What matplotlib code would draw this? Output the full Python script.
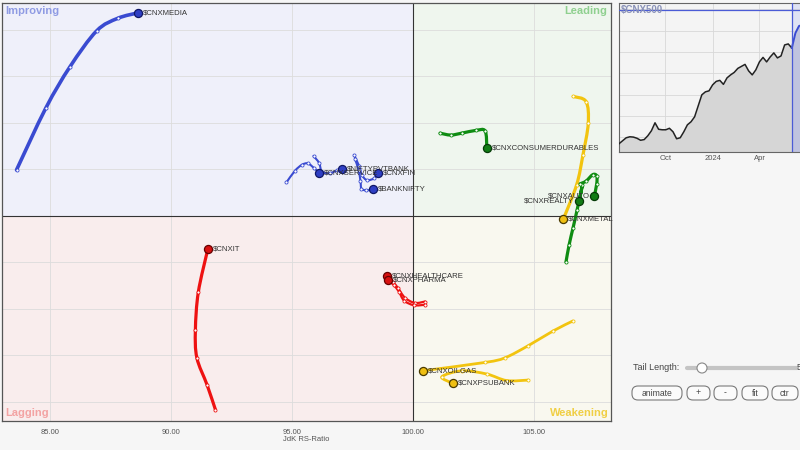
import numpy as np
import pandas as pd
import matplotlib
matplotlib.use('Agg')
import matplotlib.pyplot as plt
from matplotlib.path import Path
from matplotlib.patches import PathPatch, FancyBboxPatch, Rectangle, Circle

plt.rcParams['font.family'] = ['Liberation Sans', 'DejaVu Sans']

# ---------------- RRG data (JdK RS-Ratio, JdK RS-Momentum), oldest -> head
media_x = [83.62, 84.83, 85.83, 86.93, 87.80, 88.65]
media_y = [100.99, 102.32, 103.21, 103.98, 104.25, 104.37]
service_x = [94.77, 95.12, 95.41, 95.66, 95.91, 96.13]
service_y = [100.72, 100.97, 101.10, 101.13, 101.03, 100.93]
pvtbank_x = [95.89, 96.12, 96.24, 96.57, 96.86, 97.08]
pvtbank_y = [101.29, 101.14, 100.95, 100.92, 100.98, 101.01]
fin_x = [97.56, 97.77, 97.89, 98.10, 98.39, 98.57]
fin_y = [101.31, 101.08, 100.88, 100.77, 100.81, 100.92]
banknifty_x = [97.60, 97.75, 97.83, 97.87, 98.06, 98.33]
banknifty_y = [101.23, 100.99, 100.75, 100.59, 100.55, 100.57]
consdur_x = [101.12, 101.56, 102.01, 102.60, 102.98, 103.05]
consdur_y = [101.78, 101.74, 101.78, 101.84, 101.83, 101.47]
metal_x = [106.62, 107.15, 107.24, 107.02, 106.76, 106.21]
metal_y = [102.57, 102.46, 101.99, 101.31, 100.67, 99.93]
realty_x = [106.32, 106.45, 106.61, 106.78, 107.00, 106.87]
realty_y = [99.01, 99.38, 99.74, 100.13, 100.67, 100.33]
auto_x = [106.90, 107.15, 107.43, 107.59, 107.59, 107.49]
auto_y = [100.69, 100.75, 100.89, 100.86, 100.69, 100.43]
it_x = [91.84, 91.49, 91.07, 91.01, 91.13, 91.52]
it_y = [95.83, 96.37, 96.95, 97.55, 98.36, 99.28]
health_x = [100.50, 100.08, 99.67, 99.38, 99.17, 98.93]
health_y = [98.16, 98.13, 98.24, 98.45, 98.58, 98.70]
pharma_x = [100.50, 100.04, 99.63, 99.42, 99.21, 98.98]
pharma_y = [98.09, 98.08, 98.18, 98.37, 98.51, 98.62]
oilgas_x = [106.60, 105.80, 104.76, 103.80, 102.98, 100.40]
oilgas_y = [97.74, 97.53, 97.21, 96.95, 96.85, 96.67]
psubank_x = [104.76, 103.87, 103.05, 102.02, 101.19, 101.64]
psubank_y = [96.47, 96.46, 96.60, 96.67, 96.54, 96.40]

x_ticks = [85, 90, 95, 100, 105]
x_tick_labels = ['85.00', '90.00', '95.00', '100.00', '105.00']

# ---------------- benchmark inset ($CNX500), weekly
bench_start = '2023-07-03'
bench_values = [14687, 14828, 14968, 15015, 15001, 14945, 14851, 14884, 15062, 15297,
                15672, 15367, 15344, 15344, 15414, 15250, 14922, 14968, 15250, 15578,
                15719, 15953, 16469, 16985, 17126, 17173, 17454, 17618, 17665, 17478,
                17782, 17923, 18040, 18228, 18322, 18416, 18111, 17923, 18158, 18533,
                18744, 18533, 18767, 18955, 18720, 18814, 19330, 19377, 19189]
bench_tail_values = [19189, 19893, 20221, 20268, 20221, 20174]
bench_ref_level = 20970
inset_tick_dates = ['2023-10-01', '2024-01-01', '2024-04-01']
inset_tick_labels = ['Oct', '2024', 'Apr']

# ---------------- styles
BLUE = dict(line='#3a4bd1', face='#2f3fc4', edge='#0f1766')
GREEN = dict(line='#0f8c12', face='#117c15', edge='#053a07')
RED = dict(line='#ee1212', face='#d81010', edge='#660000')
YELLOW = dict(line='#f2c40f', face='#efbf12', edge='#4a3a00')

series = [
    ('$CNXMEDIA', media_x, media_y, BLUE, 2.6, 'r'),
    ('$CNXSERVICE', service_x, service_y, BLUE, 1.5, 'r'),
    ('$NIFTYPVTBANK', pvtbank_x, pvtbank_y, BLUE, 1.5, 'r'),
    ('$CNXFIN', fin_x, fin_y, BLUE, 1.5, 'r'),
    ('$BANKNIFTY', banknifty_x, banknifty_y, BLUE, 1.5, 'r'),
    ('$CNXCONSUMERDURABLES', consdur_x, consdur_y, GREEN, 2.3, 'r'),
    ('$CNXMETAL', metal_x, metal_y, YELLOW, 2.3, 'r'),
    ('$CNXREALTY', realty_x, realty_y, GREEN, 2.3, 'l'),
    ('$CNXAUTO', auto_x, auto_y, GREEN, 2.3, 'l'),
    ('$CNXIT', it_x, it_y, RED, 2.3, 'r'),
    ('$CNXHEALTHCARE', health_x, health_y, RED, 1.6, 'r'),
    ('$CNXPHARMA', pharma_x, pharma_y, RED, 1.6, 'r'),
    ('$CNXOILGAS', oilgas_x, oilgas_y, YELLOW, 2.0, 'r'),
    ('$CNXPSUBANK', psubank_x, psubank_y, YELLOW, 2.0, 'r'),
]


def smooth_path(xs, ys):
    pts = np.column_stack([xs, ys]).astype(float)
    n = len(pts)
    verts = [pts[0]]
    codes = [Path.MOVETO]
    for i in range(n - 1):
        p0 = pts[i - 1] if i > 0 else pts[i]
        p1 = pts[i]
        p2 = pts[i + 1]
        p3 = pts[i + 2] if i + 2 < n else pts[i + 1]
        c1 = p1 + (p2 - p0) / 6.0
        c2 = p2 - (p3 - p1) / 6.0
        verts += [c1, c2, p2]
        codes += [Path.CURVE4] * 3
    return Path(verts, codes)


fig = plt.figure(figsize=(8, 4.5), dpi=100, facecolor='#f6f6f6')

W, H = 800.0, 450.0
L, R, T, B = 2, 611, 3, 421
ax = fig.add_axes([L / W, 1 - B / H, (R - L) / W, (B - T) / H])

xlim = (83.02, 108.18)
ylim = (95.59, 104.58)
ax.set_xlim(*xlim)
ax.set_ylim(*ylim)

# quadrant backgrounds
ax.add_patch(Rectangle((xlim[0], 100), 100 - xlim[0], ylim[1] - 100, color='#eff0fa', zorder=0, lw=0))
ax.add_patch(Rectangle((100, 100), xlim[1] - 100, ylim[1] - 100, color='#eff6ee', zorder=0, lw=0))
ax.add_patch(Rectangle((xlim[0], ylim[0]), 100 - xlim[0], 100 - ylim[0], color='#f9eded', zorder=0, lw=0))
ax.add_patch(Rectangle((100, ylim[0]), xlim[1] - 100, 100 - ylim[0], color='#f9f8ef', zorder=0, lw=0))

ax.set_xticks(x_ticks)
ax.set_xticklabels(x_tick_labels)
ax.set_yticks(np.arange(96, 105, 1))
ax.set_yticklabels([])
ax.grid(True, color='#dcdcdc', lw=0.6, zorder=1)
ax.set_axisbelow(True)
ax.tick_params(axis='both', length=0, labelsize=5.5, labelcolor='#555555', pad=6)
ax.set_xlabel('JdK RS-Ratio', fontsize=5.5, color='#555555', labelpad=0)
for s in ax.spines.values():
    s.set_color('#555555')
    s.set_linewidth(0.9)

ax.axvline(100, color='#333333', lw=0.8, zorder=2)
ax.axhline(100, color='#333333', lw=0.8, zorder=2)

# quadrant labels
qfs = 8
ax.text(0.006, 0.993, 'Improving', transform=ax.transAxes, ha='left', va='top',
        fontsize=qfs, fontweight='bold', color='#8f9be3', zorder=3)
ax.text(0.994, 0.993, 'Leading', transform=ax.transAxes, ha='right', va='top',
        fontsize=qfs, fontweight='bold', color='#8fd08f', zorder=3)
ax.text(0.006, 0.008, 'Lagging', transform=ax.transAxes, ha='left', va='bottom',
        fontsize=qfs, fontweight='bold', color='#f3a3a3', zorder=3)
ax.text(0.996, 0.008, 'Weakening', transform=ax.transAxes, ha='right', va='bottom',
        fontsize=qfs, fontweight='bold', color='#f0cf45', zorder=3)

# tails
for name, xs, ys, col, lw, side in series:
    ax.add_patch(PathPatch(smooth_path(xs, ys), fill=False, edgecolor=col['line'],
                           lw=lw, capstyle='round', joinstyle='round', zorder=4))
    ax.scatter(xs[:-1], ys[:-1], s=5, facecolor='white', edgecolor=col['line'],
               linewidths=0.6, zorder=5)
    ax.scatter(xs[-1:], ys[-1:], s=34, facecolor=col['face'], edgecolor=col['edge'],
               linewidths=0.9, zorder=6)
    if side == 'r':
        ax.annotate(name, (xs[-1], ys[-1]), xytext=(3.5, 0), textcoords='offset points',
                    ha='left', va='center', fontsize=5.6, color='#333333', zorder=7)
    else:
        ax.annotate(name, (xs[-1], ys[-1]), xytext=(-3.5, 0), textcoords='offset points',
                    ha='right', va='center', fontsize=5.6, color='#333333', zorder=7)

# ---------------- inset benchmark chart
iax = fig.add_axes([619 / W, 1 - 152 / H, 211 / W, 149 / H])
dates = pd.date_range(bench_start, periods=len(bench_values), freq='7D')
tail_dates = pd.date_range(dates[-1], periods=len(bench_tail_values), freq='7D')
iax.set_facecolor('#f4f4f4')
iax.set_xlim(dates[0], dates[0] + pd.Timedelta(weeks=58.6))
iax.set_ylim(14300, 21300)
iax.axvspan(dates[-1], dates[0] + pd.Timedelta(weeks=80), color='#dfe2f4', lw=0, zorder=0)
iax.fill_between(dates, bench_values, 14300, color='#d6d6d6', zorder=1, lw=0)
iax.fill_between(tail_dates, bench_tail_values, 14300, color='#bfc3df', zorder=1, lw=0)
iax.plot(dates, bench_values, color='#222222', lw=1.1, zorder=3)
iax.plot(tail_dates, bench_tail_values, color='#3a4bd1', lw=1.4, zorder=3)
iax.axvline(dates[-1], color='#4a5bd6', lw=0.9, zorder=4)
iax.axhline(bench_ref_level, color='#4a5bd6', lw=0.9, zorder=4)
iax.set_xticks(pd.to_datetime(inset_tick_dates))
iax.set_xticklabels(inset_tick_labels)
iax.set_yticks(np.arange(15000, 21001, 1000))
iax.set_yticklabels([])
iax.grid(True, color='#d8d8d8', lw=0.6, zorder=0)
iax.set_axisbelow(True)
iax.tick_params(axis='both', length=0, labelsize=5.5, labelcolor='#555555', pad=2)
for s in iax.spines.values():
    s.set_color('#666666')
    s.set_linewidth(0.8)
iax.text(0.01, 0.985, '$CNX500', transform=iax.transAxes, ha='left', va='top',
         fontsize=7, fontweight='bold', color='#8a92b8', zorder=5)

# ---------------- UI controls (overlay in pixel coordinates)
uax = fig.add_axes([0, 0, 1, 1], facecolor='none')
uax.set_xlim(0, W)
uax.set_ylim(H, 0)
uax.axis('off')
uax.text(633, 368, 'Tail Length:', ha='left', va='center', fontsize=6.5, color='#444444')
uax.plot([687, 797], [368, 368], color='#c4c4c4', lw=3, solid_capstyle='round')
uax.add_patch(Circle((702, 368), 5, facecolor='white', edgecolor='#888888', lw=0.8, zorder=5))
uax.text(797, 368, '5', ha='left', va='center', fontsize=6.5, color='#444444')
buttons = [('animate', 632, 682), ('+', 687, 710), ('-', 714, 737), ('fit', 742, 768), ('ctr', 772, 798)]
for label, x0, x1 in buttons:
    uax.add_patch(FancyBboxPatch((x0, 386), x1 - x0, 14, boxstyle='round,pad=0,rounding_size=6',
                                 facecolor='#fbfbfb', edgecolor='#7a7a7a', lw=0.8))
    uax.text((x0 + x1) / 2, 393, label, ha='center', va='center', fontsize=6.2, color='#444444')

fig.savefig('out.png', dpi=100, facecolor=fig.get_facecolor())
